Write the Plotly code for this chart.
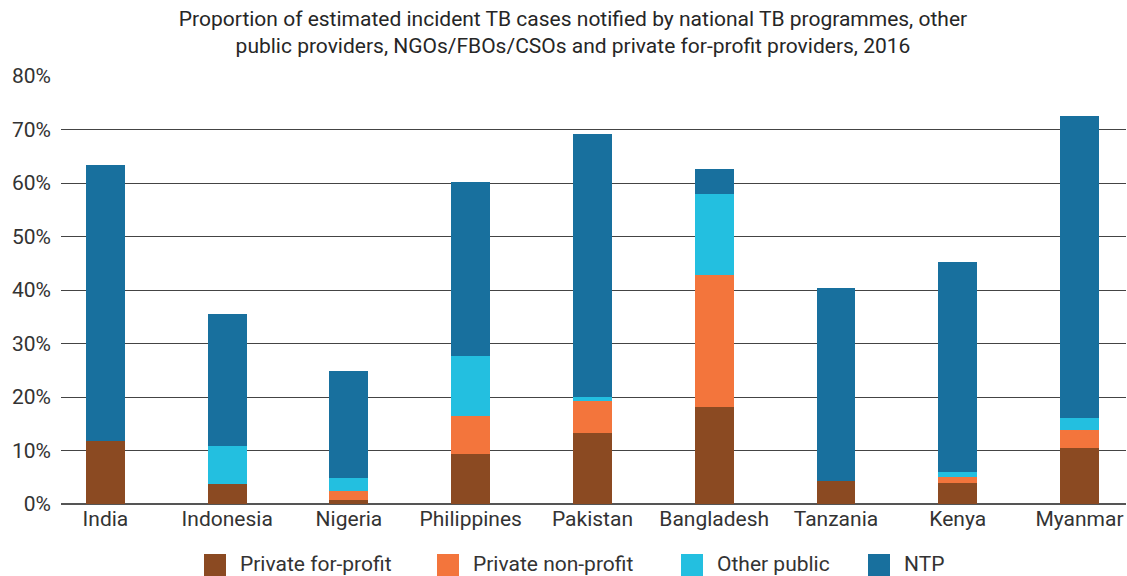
import plotly.graph_objects as go

countries = ["India", "Indonesia", "Nigeria", "Philippines", "Pakistan",
             "Bangladesh", "Tanzania", "Kenya", "Myanmar"]
private_for_profit = [11.8, 3.7, 0.7, 9.3, 13.2, 18.2, 4.3, 4.0, 10.4]
private_non_profit = [0.0, 0.0, 1.7, 7.1, 6.0, 24.6, 0.0, 1.0, 3.35]
other_public = [0.0, 7.1, 2.4, 11.3, 0.75, 15.1, 0.0, 0.9, 2.4]
ntp = [51.6, 24.8, 20.0, 32.4, 49.2, 4.7, 36.1, 39.4, 56.4]
y_ticks = [0, 10, 20, 30, 40, 50, 60, 70, 80]
y_tick_labels = ["0%", "10%", "20%", "30%", "40%", "50%", "60%", "70%", "80%"]

series_names = ["Private for-profit", "Private non-profit", "Other public", "NTP"]
series_values = [private_for_profit, private_non_profit, other_public, ntp]
series_colors = ["#8B4A22", "#F3753C", "#23BFE0", "#18709E"]

W, H = 1127, 576
ML, MR, MT, MB = 61, 1, 76, 72
PW, PH = W - ML - MR, H - MT - MB

fig = go.Figure()
for name, vals, color in zip(series_names, series_values, series_colors):
    fig.add_trace(go.Bar(x=countries, y=vals, name=name, marker_color=color,
                         marker_line_width=0, width=0.32, showlegend=False))

# manual legend (swatch + text), positioned in pixels and converted to paper coords
legend_swatch_left = [204, 437, 681, 868]
sw, sy0, sy1, text_gap, ty = 22, 554, 576, 12, 564
def px(x):
    return (x - ML) / PW
def py(y):
    return (H - MB - y) / PH
shapes, annotations = [], []
for name, color, x0 in zip(series_names, series_colors, legend_swatch_left):
    shapes.append(dict(type="rect", xref="paper", yref="paper",
                       x0=px(x0), x1=px(x0 + sw), y0=py(sy1), y1=py(sy0),
                       fillcolor=color, line=dict(width=0), layer="above"))
    annotations.append(dict(text=name, xref="paper", yref="paper",
                            x=px(x0 + sw + text_gap), y=py(ty),
                            xanchor="left", yanchor="middle", showarrow=False,
                            font=dict(size=21, color="#333333")))

fig.update_layout(
    width=W, height=H,
    barmode="stack",
    margin=dict(l=ML, r=MR, t=MT, b=MB),
    plot_bgcolor="white", paper_bgcolor="white",
    font=dict(family="Roboto", color="#333333", size=21),
    title=dict(text="Proportion of estimated incident TB cases notified by national TB programmes, other<br>public providers, NGOs/FBOs/CSOs and private for-profit providers, 2016",
               x=573 / W, xanchor="center", y=1 - 26 / H, yanchor="middle",
               font=dict(size=21, color="#262626")),
    showlegend=False,
    shapes=shapes,
    annotations=annotations,
    bargap=0,
)
fig.update_xaxes(range=[-0.365, 8.382], showgrid=False, showline=False, ticks="",
                 automargin=False, tickfont=dict(size=21, color="#333333"))
fig.update_yaxes(range=[0, 80], tickvals=y_ticks, ticktext=y_tick_labels,
                 showgrid=True, gridcolor="#444444", gridwidth=1,
                 zeroline=True, zerolinecolor="#555555", zerolinewidth=1.5,
                 automargin=False, tickfont=dict(size=21, color="#333333"),
                 ticklabelstandoff=9)

fig.write_html("out.html", config={"displayModeBar": False},
               post_script="document.body.style.margin='0';")
